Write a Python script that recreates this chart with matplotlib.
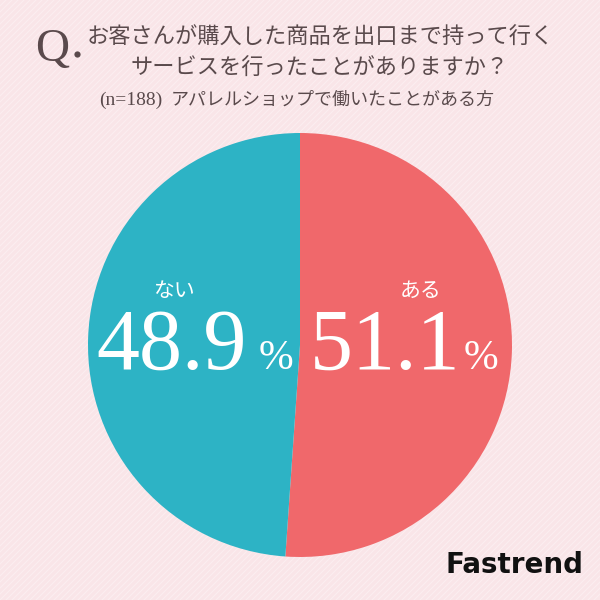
import matplotlib.pyplot as plt
import numpy as np

plt.rcParams['font.family'] = ['Noto Sans CJK JP', 'DejaVu Sans']

labels = ['ある', 'ない']
values = [51.1, 48.9]
colors = ['#F0686B', '#2DB3C5']
title_1 = 'お客さんが購入した商品を出口まで持って行く'
title_2 = 'サービスを行ったことがありますか？'
subtitle_n = '(n=188)'
subtitle = 'アパレルショップで働いたことがある方'

fig = plt.figure(figsize=(6, 6), dpi=100)
fig.patch.set_facecolor('#F9E5E8')
ax = fig.add_axes([0, 0, 1, 1])

# diagonal stripes in background
for k in np.arange(-600, 600, 6):
    ax.plot([k, k + 600], [0, 600], color='white', lw=0.8, alpha=0.35, zorder=0)

ax.pie(values, colors=colors, startangle=90, counterclock=False,
       center=(300, 255), radius=212, frame=True,
       wedgeprops=dict(linewidth=0))
ax.set_xlim(0, 600)
ax.set_ylim(0, 600)
ax.set_aspect('equal')
ax.axis('off')

txt = '#5A4A4C'
ax.text(52, 550, 'Q', fontsize=34, family='Liberation Serif', color=txt,
        ha='center', va='center')
ax.plot(77, 546, 'o', ms=4.5, color=txt, mew=0)
ax.text(320, 563, title_1, fontsize=16, color=txt, ha='center', va='center')
ax.text(320, 532, title_2, fontsize=16, color=txt, ha='center', va='center')
ax.text(131, 500, subtitle_n, fontsize=14, family='Liberation Serif', color=txt,
        ha='center', va='center')
ax.text(171, 500, subtitle, fontsize=13, color=txt, ha='left', va='center')

# slice labels
ax.text(421, 309, labels[0], fontsize=15, color='white', ha='center', va='center')
ax.text(174, 309, labels[1], fontsize=15, color='white', ha='center', va='center')
ax.text(385, 252, f'{values[0]}', fontsize=62, family='Liberation Serif',
        color='white', ha='center', va='center')
ax.text(481, 241, '%', fontsize=30, family='Liberation Serif',
        color='white', ha='center', va='center')
ax.text(172, 252, f'{values[1]}', fontsize=62, family='Liberation Serif',
        color='white', ha='center', va='center')
ax.text(276, 241, '%', fontsize=30, family='Liberation Serif',
        color='white', ha='center', va='center')

ax.text(515, 35, 'Fastrend', fontsize=20, fontweight='bold', family='DejaVu Sans',
        color='#111111', ha='center', va='center')

fig.savefig('out.png', dpi=100, facecolor=fig.get_facecolor())
